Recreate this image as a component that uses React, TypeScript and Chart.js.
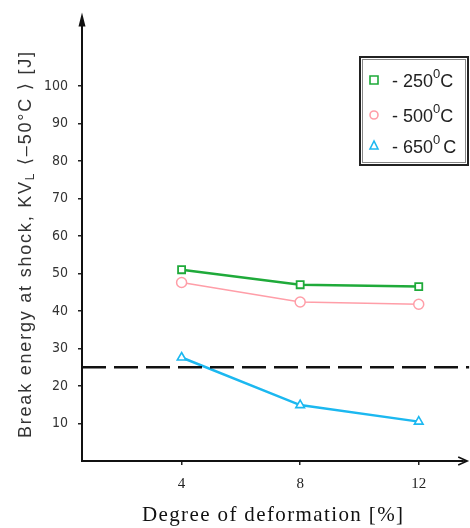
import React, { useEffect, useRef } from "react";
import { Chart, registerables } from "chart.js";

Chart.register(...registerables);

// ---- data ----
const deformation = [4, 8, 12];
const energy250 = [51, 47, 46.5];
const energy500 = [47.6, 42.4, 41.8];
const energy650 = [27.6, 14.9, 10.5];
const thresholdEnergy = 25;
const yTickValues = [10, 20, 30, 40, 50, 60, 70, 80, 90, 100];
const xTickValues = [4, 8, 12];
const seriesLabels = ["250", "500", "650"];
const xTitle = "Degree of deformation [%]";
const yTitleA = "Break energy at shock, KV";
const yTitleSub = "L";
const yTitleB = " \u27E8\u201350\u00B0C \u27E9 [J]";

const GREEN = "#1faa3a";
const PINK = "#ff9ea8";
const BLUE = "#1cb8f0";

const drawFitText = (ctx: CanvasRenderingContext2D, parts: { t: string; font: string; dy: number }[], x: number, y: number, target: number) => {
  let w = 0;
  let n = 0;
  parts.forEach((p) => {
    ctx.font = p.font;
    w += ctx.measureText(p.t).width;
    n += p.t.length;
  });
  const sp = (target - w) / Math.max(1, n - 1);
  let cx = x;
  parts.forEach((p) => {
    ctx.font = p.font;
    for (const ch of p.t) {
      ctx.fillText(ch, cx, y + p.dy);
      cx += ctx.measureText(ch).width + sp;
    }
  });
};

const decorPlugin = {
  id: "decor",
  afterDraw(chart: any) {
    const ctx: CanvasRenderingContext2D = chart.ctx;
    const a = chart.chartArea;
    ctx.save();
    // y axis arrow
    ctx.fillStyle = "#111";
    ctx.beginPath();
    ctx.moveTo(a.left, a.top - 6);
    ctx.lineTo(a.left - 3.5, a.top + 8);
    ctx.lineTo(a.left + 3.5, a.top + 8);
    ctx.closePath();
    ctx.fill();
    // x axis arrow (open)
    ctx.strokeStyle = "#111";
    ctx.lineWidth = 1.6;
    ctx.beginPath();
    ctx.moveTo(a.right, a.bottom);
    ctx.lineTo(a.right + 4, a.bottom);
    ctx.moveTo(a.right - 5, a.bottom - 4);
    ctx.lineTo(a.right + 4, a.bottom);
    ctx.lineTo(a.right - 5, a.bottom + 4);
    ctx.stroke();

    // x title
    ctx.fillStyle = "#111";
    ctx.textBaseline = "alphabetic";
    ctx.textAlign = "left";
    drawFitText(ctx, [{ t: xTitle, font: "21px 'Liberation Serif', serif", dy: 0 }], 142, 521, 261);

    // y title rotated
    ctx.save();
    ctx.translate(31, 438);
    ctx.rotate(-Math.PI / 2);
    ctx.fillStyle = "#333";
    drawFitText(
      ctx,
      [
        { t: yTitleA, font: "18px 'Liberation Sans', sans-serif", dy: 0 },
        { t: yTitleSub, font: "12px 'Liberation Sans', sans-serif", dy: 3 },
        { t: yTitleB, font: "18px 'Liberation Sans', 'DejaVu Sans', sans-serif", dy: 0 },
      ],
      0,
      0,
      386
    );
    ctx.restore();

    // legend
    const lx = 360, ly = 57, lw = 108, lh = 108;
    ctx.fillStyle = "#fff";
    ctx.fillRect(lx, ly, lw, lh);
    ctx.strokeStyle = "#222";
    ctx.lineWidth = 2;
    ctx.strokeRect(lx, ly, lw, lh);
    ctx.strokeStyle = "#888";
    ctx.lineWidth = 1;
    ctx.strokeRect(lx + 2.5, ly + 2.5, lw - 5, lh - 5);
    const rows = [80, 115, 146];
    const colors = [GREEN, PINK, BLUE];
    rows.forEach((ry, i) => {
      const mx = 374;
      ctx.strokeStyle = colors[i];
      ctx.lineWidth = 1.6;
      ctx.beginPath();
      if (i === 0) ctx.rect(mx - 4, ry - 4, 8, 8);
      else if (i === 1) ctx.arc(mx, ry, 4, 0, Math.PI * 2);
      else {
        ctx.moveTo(mx, ry - 5);
        ctx.lineTo(mx - 4, ry + 3);
        ctx.lineTo(mx + 4, ry + 3);
        ctx.closePath();
      }
      ctx.stroke();
      ctx.fillStyle = "#222";
      ctx.textBaseline = "alphabetic";
      let tx = 392;
      const base = ry + 7;
      ctx.font = "18px 'Liberation Sans', sans-serif";
      const s1 = "- " + seriesLabels[i];
      ctx.fillText(s1, tx, base);
      tx += ctx.measureText(s1).width;
      ctx.font = "13px 'Liberation Sans', sans-serif";
      ctx.fillText("0", tx, base - 9);
      tx += ctx.measureText("0").width + (i === 2 ? 3 : 0);
      ctx.font = "18px 'Liberation Sans', sans-serif";
      ctx.fillText("C", tx, base);
    });
    ctx.restore();
  },
};

const mk = (arr: number[]) => deformation.map((x, i) => ({ x, y: arr[i] }));

export default function App() {
  const ref = useRef<HTMLCanvasElement | null>(null);
  useEffect(() => {
    if (!ref.current) return;
    const chart = new Chart(ref.current, {
      type: "scatter",
      data: {
        datasets: [
          {
            label: "threshold",
            data: [
              { x: 0.64, y: thresholdEnergy },
              { x: 13.7, y: thresholdEnergy },
            ],
            showLine: true,
            clip: false,
            borderColor: "#111",
            borderWidth: 2.5,
            borderDash: [24, 8],
            pointRadius: 0,
          },
          {
            label: "250",
            data: mk(energy250),
            showLine: true,
            borderColor: GREEN,
            borderWidth: 2.5,
            pointStyle: "rect",
            pointRadius: 5,
            pointBorderWidth: 1.8,
            pointBackgroundColor: "#fff",
            pointBorderColor: GREEN,
          },
          {
            label: "500",
            data: mk(energy500),
            showLine: true,
            borderColor: PINK,
            borderWidth: 1.6,
            pointStyle: "circle",
            pointRadius: 5,
            pointBorderWidth: 1.5,
            pointBackgroundColor: "#fff",
            pointBorderColor: PINK,
          },
          {
            label: "650",
            data: mk(energy650),
            showLine: true,
            borderColor: BLUE,
            borderWidth: 2.5,
            pointStyle: "triangle",
            pointRadius: 5,
            pointBorderWidth: 1.6,
            pointBackgroundColor: "#fff",
            pointBorderColor: BLUE,
          },
        ],
      },
      options: {
        responsive: false,
        animation: false,
        events: [],
        layout: { padding: { left: 0, right: 5, top: 12, bottom: 0 } },
        plugins: { legend: { display: false }, tooltip: { enabled: false }, title: { display: false } },
        scales: {
          x: {
            type: "linear",
            min: 0.64,
            max: 13.5,
            afterBuildTicks: (s: any) => {
              s.ticks = xTickValues.map((v) => ({ value: v }));
            },
            afterFit: (s: any) => {
              s.height = 67;
            },
            grid: { drawOnChartArea: false, drawTicks: true, tickLength: 4, color: "#222", lineWidth: 1.5 },
            border: { display: true, color: "#111", width: 2 },
            ticks: {
              padding: 10,
              color: "#222",
              font: { family: "'Liberation Serif', serif", size: 15 },
              callback: (v: any) => String(v),
            },
          },
          y: {
            type: "linear",
            min: 0,
            max: 118,
            afterBuildTicks: (s: any) => {
              s.ticks = yTickValues.map((v) => ({ value: v }));
            },
            afterFit: (s: any) => {
              s.width = 82;
            },
            grid: { drawOnChartArea: false, drawTicks: true, tickLength: 4, color: "#222", lineWidth: 1.5 },
            border: { display: true, color: "#111", width: 2 },
            ticks: {
              padding: 10,
              color: "#333",
              font: { family: "'Liberation Sans Narrow', 'DejaVu Sans Condensed', sans-serif", size: 14 },
              callback: (v: any) => String(v),
            },
          },
        },
      },
      plugins: [decorPlugin],
    } as any);
    return () => chart.destroy();
  }, []);
  return (
    <div style={{ position: "fixed", left: 0, top: 0, width: 470, height: 528, background: "#fff" }}>
      <canvas ref={ref} width={470} height={528} style={{ width: 470, height: 528, display: "block" }} />
    </div>
  );
}
